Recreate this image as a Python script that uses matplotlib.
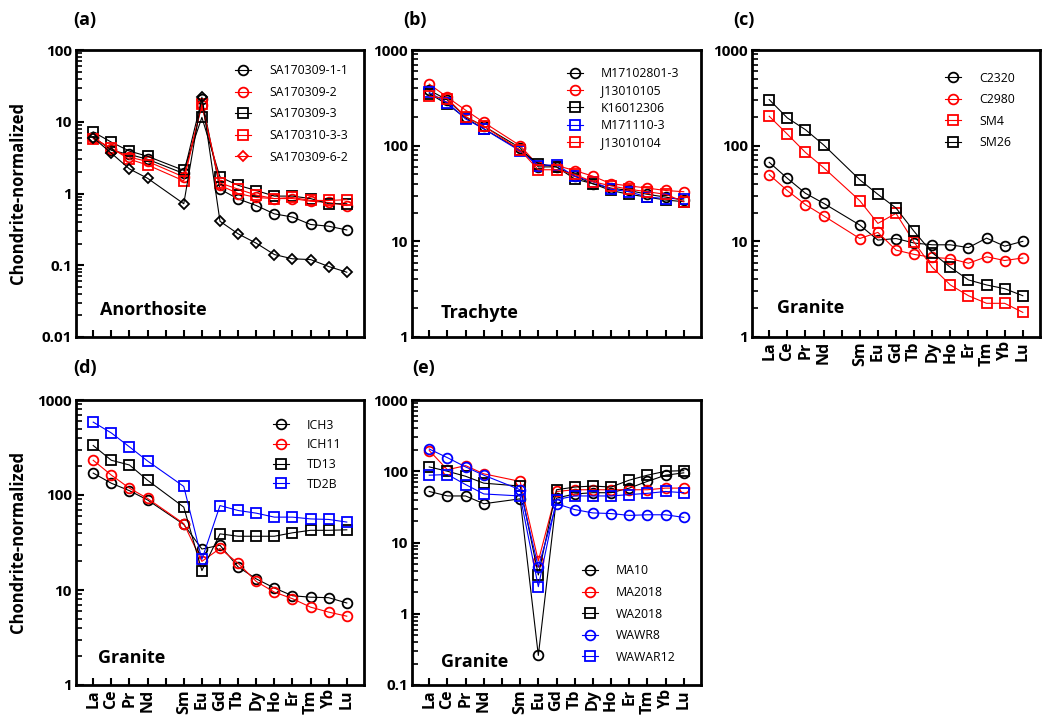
import numpy as np
import matplotlib
matplotlib.use("Agg")
import matplotlib.pyplot as plt
from matplotlib.ticker import FixedLocator, LogLocator, NullFormatter
from matplotlib.lines import Line2D

plt.rcParams['font.family'] = ['Open Sans', 'DejaVu Sans']

elements = ['La', 'Ce', 'Pr', 'Nd', '', 'Sm', 'Eu', 'Gd', 'Tb', 'Dy', 'Ho', 'Er', 'Tm', 'Yb', 'Lu']
# positions without Pm
x_ree = [0, 1, 2, 3, 5, 6, 7, 8, 9, 10, 11, 12, 13, 14]

# (a) Anorthosite
a_names = ['SA170309-1-1', 'SA170309-2', 'SA170309-3', 'SA170310-3-3', 'SA170309-6-2']
a_1_1 = [6.2, 4.0, 3.5, 3.0, 1.9, 21, 1.15, 0.84, 0.68, 0.52, 0.47, 0.37, 0.35, 0.31]
a_2   = [6.0, 4.2, 3.2, 2.8, 1.7, 17, 1.3, 1.0, 0.88, 0.85, 0.85, 0.78, 0.75, 0.68]
a_3   = [7.2, 5.2, 3.9, 3.3, 2.1, 11.5, 1.7, 1.3, 1.1, 0.92, 0.92, 0.85, 0.72, 0.72]
a_3_3 = [5.8, 4.3, 3.0, 2.5, 1.5, 17.5, 1.4, 1.15, 0.95, 0.85, 0.88, 0.8, 0.8, 0.82]
a_6_2 = [6.0, 3.65, 2.2, 1.63, 0.72, 22, 0.41, 0.274, 0.203, 0.141, 0.123, 0.12, 0.096, 0.080]

# (b) Trachyte
b_names = ['M17102801-3', 'J13010105', 'K16012306', 'M171110-3', 'J13010104']
b_1 = [380, 300, 200, 160, 95, 60, 60, 48, 40, 36, 34, 31, 29, 27]
b_2 = [440, 320, 235, 175, 100, 62, 62, 55, 48, 40, 38, 36, 34, 33]
b_3 = [350, 270, 195, 150, 90, 65, 60, 45, 40, 34, 31, 29, 27, 26]
b_4 = [360, 280, 190, 150, 88, 62, 63, 48, 42, 35, 33, 29, 28, 28]
b_5 = [330, 310, 200, 160, 90, 56, 56, 50, 42, 38, 35, 33, 31, 26]

# (c) Granite
c_names = ['C2320', 'C2980', 'SM4', 'SM26']
c_1 = [67, 45.6, 31.8, 25, 14.8, 10.3, 10.7, 9.6, 9.2, 9.2, 8.6, 10.8, 8.9, 10]
c_2 = [49.8, 33.9, 24.2, 18.5, 10.7, 12.4, 8.1, 7.3, 6.8, 6.6, 5.9, 6.9, 6.3, 6.7]
c_3 = [203, 132, 85, 59, 26.6, 15.4, 19.6, 9.8, 5.35, 3.5, 2.7, 2.25, 2.25, 1.81]
c_4 = [303, 195, 147, 102, 44, 31, 22.3, 12.7, 7.6, 5.35, 3.95, 3.5, 3.2, 2.7]

# (d) Granite
d_names = ['ICH3', 'ICH11', 'TD13', 'TD2B']
d_1 = [170, 133, 111, 88.7, 49, 27, 29.6, 17.5, 13.1, 10.5, 8.7, 8.4, 8.3, 7.3]
d_2 = [232, 162, 118, 92, 50, 20, 27.4, 19.1, 12.3, 9.5, 8.1, 6.6, 5.85, 5.3]
d_3 = [332, 232, 207, 143, 74.5, 16, 39, 36.8, 36.8, 36.8, 40, 42.5, 42.5, 43]
d_4 = [585, 450, 321, 228, 123, 21, 77.4, 68.7, 64.4, 58.5, 58.5, 56, 55.3, 51.9]

# (e) Granite
e_names = ['MA10', 'MA2018', 'WA2018', 'WAWR8', 'WAWAR12']
e_1 = [52, 45, 45, 35, 41, 0.26, 42, 48, 50, 50, 58, 72, 88, 95]
e_2 = [195, 105, 120, 92, 72, 5.5, 52, 55, 55, 55, 55, 55, 58, 58]
e_3 = [115, 100, 85, 68, 62, 3.5, 55, 60, 62, 60, 75, 88, 100, 102]
e_4 = [205, 155, 115, 88, 55, 4.5, 35, 29, 26, 25.5, 24, 24.5, 24.5, 22.5]
e_5 = [88, 90, 65, 48, 45, 2.4, 40, 45, 45, 45, 47, 49, 52, 50]

W, H = 1042, 725
fig = plt.figure(figsize=(W / 100, H / 100), dpi=100)


def px_axes(l, t, r, b):
    return fig.add_axes([l / W, 1 - b / H, (r - l) / W, (b - t) / H])


def setup(ax, ylo, yhi, labels=True):
    ax.set_yscale('log')
    ax.set_ylim(ylo, yhi)
    ax.set_xlim(-0.95, 14.95)
    for s in ax.spines.values():
        s.set_linewidth(2.0)
    dec = [10.0 ** k for k in range(int(np.log10(ylo)), int(np.log10(yhi)) + 1)]
    ax.yaxis.set_major_locator(FixedLocator(dec))
    ax.set_yticklabels(['%g' % v for v in dec], fontweight='bold', fontsize=11)
    ax.yaxis.set_minor_locator(LogLocator(base=10, subs=np.arange(2, 10)))
    ax.yaxis.set_minor_formatter(NullFormatter())
    ax.tick_params(axis='y', which='major', direction='in', length=6, width=1.5, pad=3)
    ax.tick_params(axis='y', which='minor', direction='in', length=4, width=1.2)
    ax.set_xticks(range(15))
    if labels:
        ax.set_xticklabels(elements, rotation=90, fontweight='bold', fontsize=11.5)
    else:
        ax.set_xticklabels([])
    ax.tick_params(axis='x', direction='in', length=5, width=1.5, pad=3)


def msize(m):
    return 5.5 if m == 'D' else 7


def draw(ax, ys, styles):
    for y, (m, c) in zip(ys, styles):
        ax.plot(x_ree, y, marker=m, color=c, mfc='none', mec=c, ms=msize(m), mew=1.3, lw=0.8)


def legend(ax, names, styles, x, y, spacing=0.7):
    handles = [Line2D([], [], marker=m, color=c, mfc='none', mec=c, ms=msize(m), mew=1.3, lw=0.8)
               for m, c in styles]
    ax.legend(handles, names, loc='upper left', bbox_to_anchor=(x, y), frameon=False,
              fontsize=8.8, handlelength=1.3, handletextpad=1.5, labelspacing=spacing,
              borderpad=0, borderaxespad=0)


# panel a
ax = px_axes(76, 50, 364, 337)
setup(ax, 0.01, 100, labels=False)
draw(ax, [a_1_1, a_2, a_3, a_3_3, a_6_2],
     [('o', 'black'), ('o', 'red'), ('s', 'black'), ('s', 'red'), ('D', 'black')])
legend(ax, a_names, [('o', 'black'), ('o', 'red'), ('s', 'black'), ('s', 'red'), ('D', 'red')],
       0.552, 0.95)
ax.text(0.083, 0.094, 'Anorthosite', transform=ax.transAxes, fontsize=13, fontweight='bold', va='center')

# panel b
ax = px_axes(412, 50, 701, 337)
setup(ax, 1, 1000, labels=False)
sb = [('o', 'black'), ('o', 'red'), ('s', 'black'), ('s', 'blue'), ('s', 'red')]
draw(ax, [b_1, b_2, b_3, b_4, b_5], sb)
legend(ax, b_names, sb, 0.536, 0.94, spacing=0.35)
ax.text(0.1, 0.084, 'Trachyte', transform=ax.transAxes, fontsize=13, fontweight='bold', va='center')

# panel c
ax = px_axes(752, 50, 1040, 337)
setup(ax, 1, 1000)
sc = [('o', 'black'), ('o', 'red'), ('s', 'red'), ('s', 'black')]
draw(ax, [c_1, c_2, c_3, c_4], sc)
legend(ax, c_names, sc, 0.67, 0.925)
ax.text(0.087, 0.101, 'Granite', transform=ax.transAxes, fontsize=13, fontweight='bold', va='center')

# panel d
ax = px_axes(76, 400, 364, 685)
setup(ax, 1, 1000)
sd = [('o', 'black'), ('o', 'red'), ('s', 'black'), ('s', 'blue')]
draw(ax, [d_1, d_2, d_3, d_4], sd)
legend(ax, d_names, sd, 0.684, 0.935, spacing=0.55)
ax.text(0.076, 0.095, 'Granite', transform=ax.transAxes, fontsize=13, fontweight='bold', va='center')

# panel e
ax = px_axes(412, 400, 701, 685)
setup(ax, 0.1, 1000)
se = [('o', 'black'), ('o', 'red'), ('s', 'black'), ('o', 'blue'), ('s', 'blue')]
draw(ax, [e_1, e_2, e_3, e_4, e_5], se)
legend(ax, e_names, se, 0.588, 0.423)
ax.text(0.1, 0.08, 'Granite', transform=ax.transAxes, fontsize=13, fontweight='bold', va='center')

# panel letters and y labels
for lbl, xp, yp in [('(a)', 73, 20), ('(b)', 403, 20), ('(c)', 733, 20), ('(d)', 73, 368), ('(e)', 412, 368)]:
    fig.text(xp / W, 1 - yp / H, lbl, fontsize=13, fontweight='bold', va='center', ha='left')
for yc in [193, 542]:
    fig.text(18 / W, 1 - yc / H, 'Chondrite-normalized', rotation=90, fontsize=12,
             fontweight='bold', va='center', ha='center')

fig.savefig('out.png', dpi=100)
